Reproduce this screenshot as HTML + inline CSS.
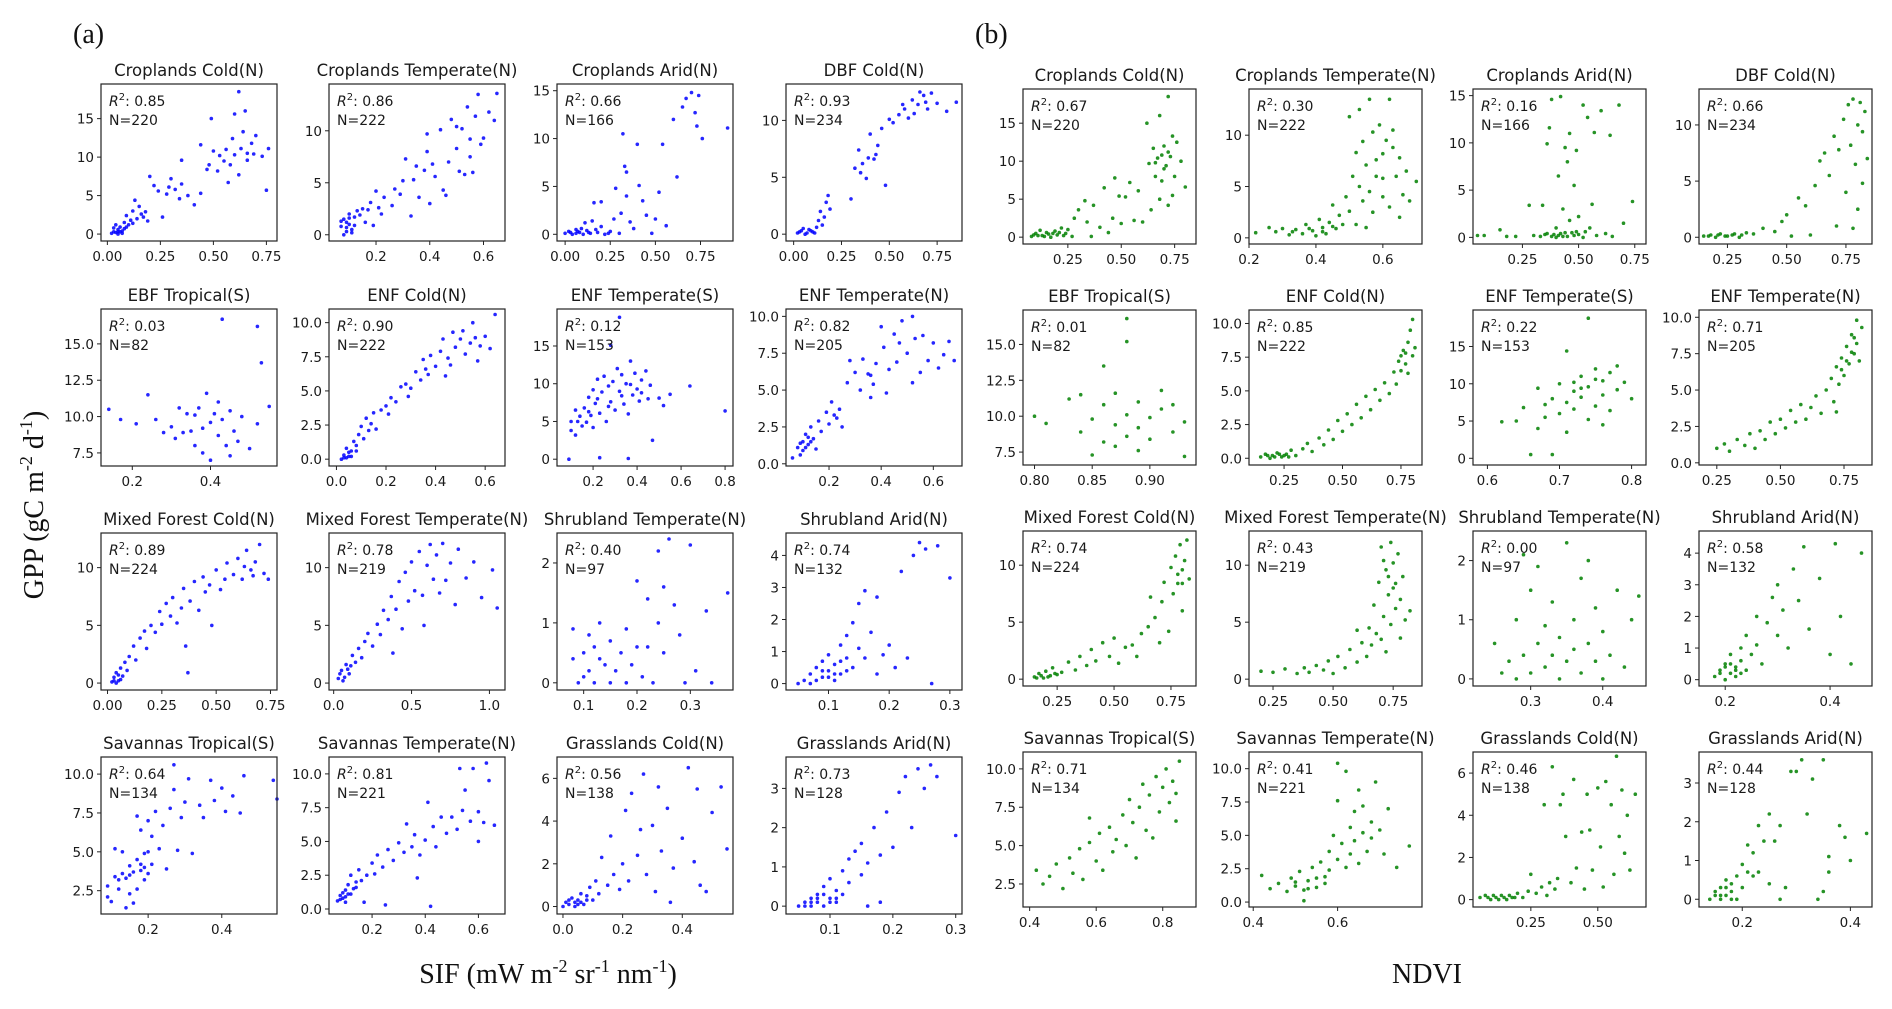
<!DOCTYPE html>
<html><head><meta charset="utf-8">
<style>
html,body{margin:0;padding:0;background:#fff;}
svg{display:block;}
text{font-family:"DejaVu Sans","Liberation Sans",sans-serif;fill:#1a1a1a;}
.big{font-family:"Liberation Serif","DejaVu Serif",serif;fill:#111;}
</style></head>
<body>
<svg id="fig" width="1892" height="1009" viewBox="0 0 1892 1009" xmlns="http://www.w3.org/2000/svg">
<text class="big" x="73" y="43" font-size="28">(a)</text>
<text class="big" x="975" y="43" font-size="28">(b)</text>
<text class="big" x="0" y="0" font-size="28" text-anchor="middle" transform="translate(43,505) rotate(-90)">GPP (gC m<tspan font-size="18" dy="-11">-2</tspan><tspan dy="11"> d</tspan><tspan font-size="18" dy="-11">-1</tspan><tspan dy="11">)</tspan></text>
<text class="big" x="548" y="983" font-size="28" text-anchor="middle">SIF (mW m<tspan font-size="18" dy="-11">-2</tspan><tspan dy="11"> sr</tspan><tspan font-size="18" dy="-11">-1</tspan><tspan dy="11"> nm</tspan><tspan font-size="18" dy="-11">-1</tspan><tspan dy="11">)</tspan></text>
<text class="big" x="1427" y="983" font-size="28" text-anchor="middle">NDVI</text>
</svg>
<script>
const titles = ["Croplands Cold(N)","Croplands Temperate(N)","Croplands Arid(N)","DBF Cold(N)","EBF Tropical(S)","ENF Cold(N)","ENF Temperate(S)","ENF Temperate(N)","Mixed Forest Cold(N)","Mixed Forest Temperate(N)","Shrubland Temperate(N)","Shrubland Arid(N)","Savannas Tropical(S)","Savannas Temperate(N)","Grasslands Cold(N)","Grasslands Arid(N)"];
const nValues = [220,222,166,234,82,222,153,205,224,219,97,132,134,221,138,128];
const r2SIF = ["0.85","0.86","0.66","0.93","0.03","0.90","0.12","0.82","0.89","0.78","0.40","0.74","0.64","0.81","0.56","0.73"];
const r2NDVI = ["0.67","0.30","0.16","0.66","0.01","0.85","0.22","0.71","0.74","0.43","0.00","0.58","0.71","0.41","0.46","0.44"];
const yTicks = [[0,5,10,15],[0,5,10],[0,5,10,15],[0,5,10],[7.5,10,12.5,15],[0,2.5,5,7.5,10],[0,5,10,15],[0,2.5,5,7.5,10],[0,5,10],[0,5,10],[0,1,2],[0,1,2,3,4],[2.5,5,7.5,10],[0,2.5,5,7.5,10],[0,2,4,6],[0,1,2,3]];
const yLims = [[-0.9,19.5],[-0.6,14.5],[-0.7,15.7],[-0.6,13.2],[6.6,17.4],[-0.5,11],[-0.9,19.9],[-0.15,10.5],[-0.6,13],[-0.6,13],[-0.12,2.5],[-0.2,4.7],[1.0,11.1],[-0.37,11.25],[-0.35,7],[-0.2,3.8]];
const xTicksSIF = [[0,0.25,0.5,0.75],[0.2,0.4,0.6],[0,0.25,0.5,0.75],[0,0.25,0.5,0.75],[0.2,0.4],[0,0.2,0.4,0.6],[0.2,0.4,0.6,0.8],[0.2,0.4,0.6],[0,0.25,0.5,0.75],[0,0.5,1.0],[0.1,0.2,0.3],[0.1,0.2,0.3],[0.2,0.4],[0.2,0.4,0.6],[0,0.2,0.4],[0.1,0.2,0.3]];
const xLimsSIF = [[-0.03,0.8],[0.025,0.68],[-0.045,0.93],[-0.04,0.88],[0.12,0.57],[-0.03,0.68],[0.036,0.836],[0.035,0.71],[-0.03,0.78],[-0.03,1.1],[0.05,0.38],[0.03,0.32],[0.072,0.55],[0.038,0.70],[-0.02,0.57],[0.03,0.31]];
const xTicksNDVI = [[0.25,0.5,0.75],[0.2,0.4,0.6],[0.25,0.5,0.75],[0.25,0.5,0.75],[0.8,0.85,0.9],[0.25,0.5,0.75],[0.6,0.7,0.8],[0.25,0.5,0.75],[0.25,0.5,0.75],[0.25,0.5,0.75],[0.3,0.4],[0.2,0.4],[0.4,0.6,0.8],[0.4,0.6],[0.25,0.5],[0.2,0.4]];
const xLimsNDVI = [[0.04,0.85],[0.2,0.717],[0.03,0.8],[0.13,0.86],[0.79,0.94],[0.1,0.84],[0.58,0.82],[0.18,0.86],[0.1,0.86],[0.15,0.87],[0.22,0.46],[0.15,0.48],[0.38,0.9],[0.39,0.8],[0.034,0.68],[0.12,0.44]];

const sifA1=[[0.02,0.1],[0.03,0.3],[0.04,0.2],[0.05,0.6],[0.06,0.9],[0.04,1.2],[0.07,0.4],[0.08,1.5],[0.05,0.0],[0.03,0.8],[0.09,2.4],[0.11,1.8],[0.12,3.0],[0.14,2.0],[0.15,3.6],[0.17,2.2],[0.19,1.7],[0.13,4.4],[0.2,7.5],[0.22,6.3],[0.26,2.2],[0.28,5.2],[0.3,7.2],[0.32,5.8],[0.35,6.5],[0.38,5.0],[0.41,3.8],[0.44,5.3],[0.44,11.6],[0.48,9.0],[0.5,10.8],[0.52,8.2],[0.55,9.5],[0.57,6.7],[0.59,12.4],[0.6,10.3],[0.62,7.7],[0.62,18.5],[0.65,16.0],[0.64,13.3],[0.66,10.5],[0.68,11.8],[0.7,12.8],[0.73,10.1],[0.76,11.1],[0.75,5.7],[0.49,15.0],[0.6,15.6],[0.35,9.6],[0.47,8.4],[0.06,0.3],[0.08,0.7],[0.1,1.2],[0.16,2.6],[0.07,0.1],[0.05,0.3],[0.09,0.9],[0.12,1.4],[0.18,2.9],[0.24,5.6],[0.29,6.1],[0.34,4.6],[0.53,10.2],[0.58,9.0],[0.63,11.1],[0.66,9.6],[0.69,10.4],[0.56,11.0]];
const sifA2=[[0.07,0.8],[0.08,1.5],[0.09,0.3],[0.1,1.0],[0.1,2.0],[0.11,0.5],[0.12,1.7],[0.08,0.0],[0.13,2.3],[0.15,2.5],[0.16,1.2],[0.18,3.1],[0.19,0.9],[0.2,4.2],[0.21,2.6],[0.23,3.6],[0.26,2.8],[0.27,4.4],[0.3,5.2],[0.31,7.3],[0.33,1.8],[0.34,5.3],[0.36,3.6],[0.38,6.2],[0.39,8.0],[0.39,9.7],[0.4,3.0],[0.42,5.6],[0.44,10.1],[0.45,4.3],[0.47,7.0],[0.48,11.1],[0.5,8.3],[0.51,6.1],[0.52,10.2],[0.54,12.3],[0.55,9.2],[0.56,6.0],[0.57,11.4],[0.58,13.5],[0.6,9.3],[0.62,11.8],[0.65,13.6],[0.64,11.0],[0.53,5.8],[0.46,3.8],[0.09,1.2],[0.11,0.2],[0.07,1.3],[0.09,0.7],[0.1,1.6],[0.12,0.9],[0.14,1.9],[0.17,2.4],[0.22,2.0],[0.29,3.9],[0.35,6.6],[0.41,6.8],[0.5,10.4],[0.55,7.5],[0.59,8.7]];
const sifA3=[[0.0,0.1],[0.02,0.3],[0.04,0.0],[0.06,0.5],[0.08,0.2],[0.1,0.0],[0.12,0.4],[0.14,0.1],[0.11,1.2],[0.15,1.4],[0.16,3.3],[0.2,3.4],[0.2,0.8],[0.22,0.0],[0.25,0.3],[0.27,1.6],[0.28,4.8],[0.3,0.1],[0.31,2.2],[0.32,10.5],[0.33,7.1],[0.34,6.5],[0.34,4.0],[0.36,1.3],[0.38,0.6],[0.4,9.4],[0.41,5.1],[0.43,3.5],[0.45,2.0],[0.48,0.1],[0.52,4.4],[0.54,9.4],[0.56,0.9],[0.6,12.0],[0.62,6.0],[0.65,13.3],[0.67,14.2],[0.7,14.8],[0.72,12.7],[0.74,14.5],[0.73,11.3],[0.76,10.0],[0.9,11.1],[0.5,1.6],[0.06,0.1],[0.09,0.6],[0.03,0.2],[0.07,0.3],[0.13,0.2],[0.17,0.5],[0.24,0.1],[0.18,0.2]];
const sifA4=[[0.02,0.1],[0.04,0.3],[0.06,0.0],[0.08,0.4],[0.1,0.2],[0.12,0.6],[0.05,0.5],[0.13,1.2],[0.14,2.0],[0.16,1.5],[0.17,2.8],[0.18,3.4],[0.19,2.2],[0.15,0.8],[0.32,5.8],[0.34,7.4],[0.36,6.2],[0.38,4.9],[0.4,8.8],[0.42,6.6],[0.44,7.8],[0.46,9.3],[0.48,4.3],[0.5,10.1],[0.52,9.8],[0.55,10.5],[0.58,11.0],[0.6,10.2],[0.62,11.8],[0.65,11.4],[0.68,12.2],[0.7,11.0],[0.72,12.4],[0.75,11.5],[0.8,10.8],[0.85,11.6],[0.3,3.1],[0.43,7.0],[0.57,11.4],[0.66,12.5],[0.03,0.2],[0.07,0.1],[0.09,0.3],[0.11,0.1],[0.35,5.4],[0.39,6.7],[0.63,10.6],[0.69,11.6]];
const sifA5=[[0.14,10.5],[0.17,9.8],[0.21,9.5],[0.24,11.5],[0.26,9.8],[0.28,8.9],[0.3,9.3],[0.31,8.5],[0.33,8.9],[0.34,10.2],[0.35,9.0],[0.36,8.0],[0.37,10.6],[0.38,9.2],[0.38,7.5],[0.39,11.6],[0.4,9.6],[0.4,7.0],[0.41,10.2],[0.42,8.7],[0.42,11.0],[0.43,9.8],[0.44,8.0],[0.43,16.7],[0.45,10.4],[0.46,9.0],[0.47,8.3],[0.48,10.0],[0.5,7.8],[0.52,9.5],[0.52,16.2],[0.53,13.7],[0.55,10.7],[0.36,10.1],[0.32,10.6],[0.45,7.3]];
const sifA6=[[0.02,0.0],[0.03,0.3],[0.04,0.1],[0.05,0.5],[0.06,0.2],[0.04,0.8],[0.07,1.3],[0.08,0.6],[0.09,1.8],[0.1,2.4],[0.11,1.5],[0.12,3.0],[0.14,2.6],[0.15,3.4],[0.16,2.2],[0.18,3.6],[0.2,3.9],[0.22,4.5],[0.24,4.2],[0.26,5.3],[0.28,5.5],[0.3,5.2],[0.32,6.4],[0.34,5.8],[0.35,7.3],[0.37,6.2],[0.38,7.6],[0.4,6.8],[0.42,7.9],[0.43,8.8],[0.45,7.4],[0.47,9.3],[0.48,8.2],[0.5,8.8],[0.52,7.7],[0.54,8.5],[0.55,10.0],[0.57,7.2],[0.6,9.0],[0.62,8.1],[0.64,10.6],[0.56,8.9],[0.46,6.9],[0.03,0.1],[0.05,0.2],[0.06,0.6],[0.08,1.0],[0.13,2.1],[0.21,3.3],[0.29,4.6],[0.36,6.6],[0.44,6.1],[0.51,9.4],[0.58,8.3]];
const sifA7=[[0.1,5.0],[0.1,3.8],[0.12,6.5],[0.12,3.2],[0.14,5.7],[0.15,4.4],[0.16,6.8],[0.17,4.9],[0.18,8.2],[0.19,5.8],[0.2,9.2],[0.2,4.2],[0.21,7.4],[0.22,10.6],[0.23,6.1],[0.24,8.9],[0.25,11.0],[0.26,5.0],[0.27,9.7],[0.28,7.6],[0.29,10.3],[0.3,6.5],[0.31,12.0],[0.32,9.0],[0.33,11.2],[0.34,7.3],[0.35,10.0],[0.36,6.0],[0.37,13.0],[0.38,8.5],[0.39,11.4],[0.4,9.3],[0.41,7.7],[0.42,10.5],[0.44,11.7],[0.45,8.0],[0.46,9.8],[0.5,8.1],[0.52,7.1],[0.55,8.6],[0.64,9.7],[0.8,6.4],[0.47,2.5],[0.09,0.0],[0.23,0.2],[0.36,0.1],[0.32,18.8],[0.28,15.1],[0.13,5.0],[0.18,6.3],[0.22,8.0],[0.27,7.0],[0.33,8.4],[0.37,9.9],[0.42,8.8]];
const sifA8=[[0.06,0.4],[0.08,1.1],[0.09,0.6],[0.1,1.5],[0.1,0.9],[0.11,2.0],[0.12,1.3],[0.13,2.5],[0.14,1.7],[0.15,1.0],[0.16,2.9],[0.17,2.2],[0.19,3.5],[0.2,2.7],[0.21,4.2],[0.22,3.3],[0.24,3.7],[0.25,2.5],[0.27,5.5],[0.28,7.0],[0.3,6.2],[0.32,5.0],[0.33,7.1],[0.35,6.1],[0.36,4.5],[0.37,5.4],[0.38,6.8],[0.4,9.3],[0.41,7.9],[0.43,6.4],[0.45,8.8],[0.46,6.9],[0.47,8.2],[0.48,9.7],[0.5,7.5],[0.52,10.0],[0.53,8.5],[0.55,6.2],[0.56,8.7],[0.58,7.0],[0.6,8.2],[0.62,6.5],[0.64,7.4],[0.66,8.3],[0.68,7.0],[0.52,5.5],[0.42,4.8],[0.09,1.4],[0.11,1.1],[0.12,1.8],[0.13,1.5],[0.23,3.1],[0.36,6.0]];
const sifA9=[[0.02,0.1],[0.03,0.5],[0.04,0.9],[0.05,0.2],[0.06,1.3],[0.04,0.0],[0.07,0.6],[0.08,1.8],[0.1,2.3],[0.12,3.2],[0.13,2.0],[0.15,3.9],[0.17,4.5],[0.18,3.0],[0.2,5.0],[0.22,4.4],[0.24,6.2],[0.25,5.1],[0.27,6.9],[0.29,5.8],[0.3,7.4],[0.32,5.2],[0.34,6.5],[0.35,8.2],[0.37,0.9],[0.38,7.1],[0.4,8.8],[0.42,6.3],[0.44,9.2],[0.45,7.9],[0.47,8.5],[0.5,9.8],[0.52,8.1],[0.54,9.0],[0.55,10.4],[0.58,9.4],[0.6,10.8],[0.62,9.0],[0.64,11.5],[0.66,9.8],[0.68,10.5],[0.7,12.0],[0.72,9.5],[0.74,9.0],[0.36,3.2],[0.48,5.0],[0.03,0.2],[0.05,0.7],[0.06,0.3],[0.09,1.1],[0.63,10.1],[0.67,9.3]];
const sifA10=[[0.03,0.4],[0.05,1.1],[0.06,0.2],[0.08,1.6],[0.1,0.8],[0.12,2.4],[0.14,1.8],[0.16,3.0],[0.18,2.2],[0.2,3.6],[0.22,4.3],[0.25,3.2],[0.28,5.1],[0.3,4.2],[0.32,6.3],[0.35,5.5],[0.37,7.5],[0.4,6.4],[0.42,8.8],[0.44,4.7],[0.46,9.6],[0.48,7.1],[0.5,10.5],[0.52,8.0],[0.55,11.4],[0.57,7.6],[0.6,10.2],[0.62,12.0],[0.64,9.0],[0.66,11.1],[0.68,7.8],[0.7,12.1],[0.72,8.9],[0.75,10.4],[0.78,6.8],[0.8,11.6],[0.85,9.1],[0.9,10.5],[0.95,7.4],[1.02,9.8],[1.05,6.5],[0.58,5.0],[0.38,2.6],[0.04,0.8],[0.07,0.5],[0.09,1.2],[0.11,1.5]];
const sifA11=[[0.08,0.4],[0.08,0.9],[0.09,0.0],[0.1,0.5],[0.1,0.1],[0.11,0.8],[0.11,0.2],[0.12,0.6],[0.12,0.0],[0.13,0.4],[0.13,1.0],[0.14,0.3],[0.15,0.0],[0.15,0.7],[0.16,0.2],[0.17,0.5],[0.18,0.9],[0.18,0.0],[0.19,0.3],[0.2,0.6],[0.2,1.7],[0.21,0.1],[0.22,0.6],[0.22,1.4],[0.23,0.0],[0.24,1.0],[0.24,2.2],[0.25,1.6],[0.25,0.5],[0.26,2.4],[0.27,1.3],[0.28,0.8],[0.29,0.0],[0.3,2.3],[0.31,0.2],[0.33,1.2],[0.37,1.5],[0.34,0.0]];
const sifA12=[[0.05,0.0],[0.06,0.1],[0.07,0.3],[0.07,0.0],[0.08,0.5],[0.08,0.1],[0.09,0.7],[0.09,0.2],[0.1,0.4],[0.1,0.9],[0.11,0.6],[0.11,0.1],[0.12,1.2],[0.12,0.3],[0.13,1.5],[0.13,0.8],[0.14,1.9],[0.14,0.5],[0.15,2.5],[0.15,1.1],[0.16,2.9],[0.16,0.8],[0.17,1.6],[0.18,2.7],[0.18,0.3],[0.19,0.9],[0.2,1.2],[0.21,0.5],[0.22,3.5],[0.24,4.0],[0.25,4.4],[0.26,4.2],[0.28,4.3],[0.3,3.3],[0.27,0.0],[0.23,0.8],[0.09,0.4],[0.1,0.2],[0.11,0.3],[0.12,0.7],[0.13,0.4]];
const sifA13=[[0.09,2.8],[0.09,2.1],[0.1,1.8],[0.11,3.4],[0.11,5.2],[0.12,2.6],[0.13,3.6],[0.14,1.4],[0.14,3.3],[0.15,4.1],[0.15,2.3],[0.16,3.7],[0.16,1.7],[0.17,4.5],[0.17,2.6],[0.18,6.4],[0.18,3.8],[0.19,4.9],[0.19,3.2],[0.2,5.0],[0.2,7.0],[0.21,4.2],[0.21,6.0],[0.22,7.6],[0.23,5.2],[0.24,6.7],[0.25,3.9],[0.26,7.8],[0.27,9.0],[0.27,10.6],[0.28,5.1],[0.29,7.2],[0.3,8.2],[0.31,9.7],[0.32,4.9],[0.34,8.0],[0.35,7.2],[0.37,9.6],[0.38,8.3],[0.4,9.1],[0.41,7.6],[0.43,8.6],[0.46,9.9],[0.45,7.5],[0.54,9.6],[0.55,8.4],[0.17,7.3],[0.13,5.0],[0.12,3.2],[0.15,3.5],[0.18,4.2],[0.19,4.0],[0.2,3.6]];
const sifA14=[[0.07,0.6],[0.08,1.0],[0.09,0.8],[0.1,1.4],[0.1,0.5],[0.11,1.8],[0.12,1.1],[0.12,2.5],[0.14,1.6],[0.15,2.9],[0.16,2.1],[0.17,0.5],[0.18,2.5],[0.2,3.4],[0.21,2.6],[0.22,4.0],[0.24,3.1],[0.25,0.3],[0.26,4.4],[0.28,3.6],[0.3,4.9],[0.32,4.2],[0.33,6.3],[0.35,4.6],[0.36,5.5],[0.38,4.0],[0.4,5.1],[0.41,7.9],[0.42,0.2],[0.43,6.1],[0.44,4.6],[0.46,6.8],[0.48,5.6],[0.5,6.8],[0.52,5.9],[0.54,7.3],[0.55,8.8],[0.57,6.5],[0.58,10.4],[0.6,7.2],[0.6,5.0],[0.62,6.4],[0.64,9.5],[0.66,6.2],[0.63,10.8],[0.53,10.4],[0.37,2.3],[0.08,0.7],[0.09,1.2],[0.1,0.9],[0.11,1.1],[0.13,1.5],[0.14,2.0]];
const sifA15=[[0.0,0.0],[0.01,0.2],[0.02,0.1],[0.03,0.4],[0.04,0.0],[0.05,0.3],[0.06,0.6],[0.07,0.1],[0.08,0.5],[0.09,0.9],[0.1,0.3],[0.11,1.2],[0.12,0.6],[0.13,2.3],[0.15,1.0],[0.16,3.3],[0.17,1.5],[0.19,0.8],[0.2,2.0],[0.21,4.5],[0.22,1.2],[0.23,5.3],[0.25,2.4],[0.26,3.6],[0.27,6.2],[0.28,1.5],[0.3,3.8],[0.31,0.7],[0.32,5.6],[0.33,2.6],[0.35,4.6],[0.37,1.8],[0.4,3.2],[0.42,6.5],[0.44,2.1],[0.45,5.5],[0.48,0.7],[0.5,4.4],[0.53,5.6],[0.55,2.7],[0.36,0.2],[0.46,1.0],[0.02,0.3],[0.04,0.2],[0.05,0.1],[0.06,0.2],[0.08,0.3]];
const sifA16=[[0.05,0.0],[0.06,0.1],[0.06,0.0],[0.07,0.2],[0.07,0.0],[0.08,0.3],[0.08,0.1],[0.09,0.0],[0.09,0.5],[0.1,0.2],[0.1,0.7],[0.11,0.4],[0.11,0.1],[0.12,0.9],[0.12,0.3],[0.13,1.2],[0.13,0.6],[0.14,1.4],[0.15,0.8],[0.15,1.6],[0.16,1.1],[0.17,2.0],[0.18,1.3],[0.18,0.1],[0.19,2.4],[0.2,1.5],[0.21,2.9],[0.22,3.3],[0.23,2.0],[0.24,3.5],[0.25,3.0],[0.26,3.6],[0.27,3.3],[0.3,1.8],[0.16,0.0],[0.07,0.1],[0.08,0.2],[0.09,0.3],[0.1,0.1],[0.11,0.2]];

const ndviB1=[[0.08,0.1],[0.1,0.5],[0.12,0.9],[0.13,0.2],[0.15,0.6],[0.17,0.0],[0.19,0.8],[0.2,0.3],[0.22,1.2],[0.24,0.5],[0.25,1.0],[0.27,0.1],[0.28,2.5],[0.3,3.6],[0.33,4.8],[0.34,2.0],[0.36,0.1],[0.37,4.2],[0.4,1.3],[0.42,6.5],[0.44,0.6],[0.46,2.5],[0.47,7.8],[0.49,5.4],[0.5,1.8],[0.52,5.3],[0.54,7.2],[0.56,2.2],[0.58,6.1],[0.6,2.0],[0.62,15.0],[0.63,9.7],[0.64,3.6],[0.65,11.7],[0.66,8.0],[0.67,10.4],[0.68,16.0],[0.68,5.0],[0.7,12.0],[0.7,9.0],[0.72,18.5],[0.72,4.2],[0.73,10.6],[0.74,13.3],[0.75,8.0],[0.76,12.5],[0.78,10.0],[0.8,6.6],[0.74,5.5],[0.11,0.2],[0.16,0.4],[0.21,0.6],[0.09,0.3],[0.14,0.1],[0.18,0.5],[0.23,0.2],[0.66,9.8],[0.69,10.8],[0.71,9.4],[0.72,11.2],[0.69,7.4]];
const ndviB2=[[0.22,0.5],[0.26,1.0],[0.28,0.6],[0.3,0.9],[0.32,0.3],[0.34,0.8],[0.36,0.4],[0.37,1.3],[0.39,0.7],[0.4,0.2],[0.41,1.8],[0.42,1.0],[0.43,0.4],[0.44,1.5],[0.45,3.2],[0.46,0.9],[0.47,2.2],[0.48,1.3],[0.49,4.0],[0.5,2.6],[0.5,11.8],[0.51,6.0],[0.52,8.3],[0.52,1.3],[0.53,12.5],[0.54,3.6],[0.54,9.4],[0.55,7.1],[0.56,4.5],[0.56,13.5],[0.57,2.5],[0.57,10.3],[0.58,6.0],[0.59,11.0],[0.6,4.0],[0.6,8.2],[0.61,9.5],[0.62,3.0],[0.62,13.5],[0.63,10.5],[0.64,6.0],[0.65,2.0],[0.65,7.8],[0.66,4.2],[0.67,6.5],[0.68,3.6],[0.7,5.5],[0.55,1.0],[0.33,0.6],[0.38,0.9],[0.42,0.6],[0.45,1.1],[0.53,5.0],[0.58,7.6],[0.6,5.8],[0.63,8.8]];
const ndviB3=[[0.05,0.2],[0.08,0.2],[0.15,0.8],[0.18,0.1],[0.22,0.1],[0.28,3.4],[0.3,0.2],[0.34,3.4],[0.35,0.3],[0.36,9.9],[0.37,11.6],[0.38,14.6],[0.38,0.1],[0.4,1.0],[0.41,6.5],[0.42,0.4],[0.42,14.9],[0.43,3.0],[0.44,9.5],[0.45,0.1],[0.45,8.0],[0.46,1.8],[0.46,11.0],[0.47,0.5],[0.48,0.2],[0.48,5.5],[0.49,9.2],[0.5,0.3],[0.5,2.2],[0.52,14.0],[0.53,0.6],[0.54,12.7],[0.55,1.0],[0.56,3.5],[0.57,11.1],[0.58,0.2],[0.6,13.4],[0.62,0.4],[0.64,10.8],[0.65,0.1],[0.68,14.0],[0.7,1.5],[0.74,3.8],[0.44,0.5],[0.4,0.0],[0.52,0.0],[0.33,0.1],[0.36,0.4],[0.39,0.3],[0.41,0.2],[0.43,0.1],[0.49,0.6]];
const ndviB4=[[0.15,0.1],[0.18,0.2],[0.2,0.0],[0.22,0.3],[0.25,0.1],[0.27,0.2],[0.3,0.0],[0.33,0.4],[0.36,0.3],[0.4,0.8],[0.45,0.5],[0.48,1.4],[0.5,2.0],[0.52,0.1],[0.55,3.5],[0.58,2.8],[0.6,0.2],[0.62,4.6],[0.64,6.8],[0.66,7.5],[0.68,5.5],[0.7,9.0],[0.71,1.0],[0.72,7.8],[0.74,10.5],[0.75,4.0],[0.76,11.8],[0.77,8.2],[0.78,12.3],[0.79,6.5],[0.8,10.0],[0.8,2.5],[0.81,12.0],[0.82,9.4],[0.83,11.2],[0.82,4.8],[0.78,0.8],[0.84,7.0],[0.17,0.1],[0.21,0.2],[0.24,0.1],[0.28,0.3],[0.31,0.2]];
const ndviB5=[[0.8,10.0],[0.81,9.5],[0.83,11.2],[0.84,8.9],[0.85,9.8],[0.85,7.3],[0.86,10.8],[0.86,8.2],[0.87,9.4],[0.87,11.6],[0.87,7.9],[0.88,10.1],[0.88,8.6],[0.88,16.8],[0.88,15.2],[0.89,9.2],[0.89,11.0],[0.89,7.6],[0.9,9.9],[0.9,8.4],[0.91,10.5],[0.91,11.8],[0.92,8.9],[0.92,10.8],[0.93,9.6],[0.93,7.2],[0.86,13.5],[0.84,11.5]];
const ndviB6=[[0.15,0.1],[0.17,0.3],[0.19,0.0],[0.2,0.2],[0.22,0.4],[0.24,0.1],[0.26,0.3],[0.28,0.6],[0.3,0.2],[0.33,0.7],[0.35,1.1],[0.37,0.5],[0.4,1.5],[0.42,1.0],[0.44,2.1],[0.46,1.4],[0.48,2.8],[0.5,2.0],[0.52,3.3],[0.54,2.5],[0.56,4.0],[0.58,3.0],[0.6,4.6],[0.62,3.6],[0.64,5.1],[0.66,4.3],[0.68,5.6],[0.7,4.8],[0.72,6.4],[0.73,5.5],[0.74,7.2],[0.75,6.5],[0.76,8.0],[0.77,7.0],[0.78,8.6],[0.78,6.3],[0.79,9.5],[0.8,7.6],[0.8,10.3],[0.81,8.2],[0.18,0.2],[0.21,0.1],[0.23,0.3],[0.25,0.2],[0.27,0.1],[0.75,7.6],[0.77,7.8]];
const ndviB7=[[0.62,4.9],[0.64,5.0],[0.65,6.8],[0.66,0.5],[0.67,4.0],[0.68,7.2],[0.68,5.5],[0.69,8.0],[0.7,6.0],[0.7,10.0],[0.71,7.5],[0.71,3.5],[0.72,9.0],[0.72,6.6],[0.73,11.0],[0.73,8.2],[0.74,5.2],[0.74,9.6],[0.75,12.0],[0.75,7.0],[0.76,10.4],[0.76,8.5],[0.77,11.5],[0.77,6.4],[0.78,9.2],[0.78,12.4],[0.79,10.2],[0.8,8.0],[0.74,18.8],[0.71,14.4],[0.69,0.5],[0.76,4.5],[0.67,9.4],[0.72,10.2],[0.73,9.4],[0.75,10.6]];
const ndviB8=[[0.25,1.0],[0.28,1.3],[0.3,0.8],[0.33,1.6],[0.36,1.2],[0.38,2.0],[0.4,1.0],[0.42,2.2],[0.44,1.6],[0.46,2.8],[0.48,2.0],[0.5,3.0],[0.52,2.4],[0.54,3.6],[0.56,2.8],[0.58,4.0],[0.6,3.0],[0.62,3.8],[0.64,4.6],[0.66,3.4],[0.68,5.0],[0.7,5.8],[0.71,4.2],[0.72,6.6],[0.73,5.4],[0.74,7.2],[0.75,6.0],[0.76,8.0],[0.77,6.8],[0.78,8.8],[0.79,7.5],[0.8,9.8],[0.8,8.2],[0.81,7.0],[0.82,9.3],[0.72,3.5],[0.74,6.4],[0.76,7.0],[0.78,7.6],[0.79,8.6]];
const ndviB9=[[0.15,0.2],[0.17,0.5],[0.19,0.1],[0.2,0.7],[0.22,0.3],[0.23,1.0],[0.25,0.4],[0.27,0.6],[0.3,1.5],[0.33,0.8],[0.35,2.0],[0.38,1.2],[0.4,2.6],[0.42,1.6],[0.45,3.2],[0.48,2.0],[0.5,3.6],[0.52,1.4],[0.55,2.8],[0.58,3.0],[0.6,2.0],[0.62,4.0],[0.65,4.6],[0.66,7.2],[0.68,5.4],[0.7,3.2],[0.71,6.8],[0.72,8.5],[0.74,4.2],[0.75,9.8],[0.76,7.5],[0.77,10.8],[0.78,8.4],[0.79,11.8],[0.8,9.6],[0.8,6.0],[0.81,10.4],[0.82,12.2],[0.83,8.8],[0.16,0.1],[0.18,0.3],[0.21,0.2],[0.24,0.5],[0.78,9.2],[0.8,8.4]];
const ndviB10=[[0.2,0.7],[0.25,0.6],[0.3,0.9],[0.35,0.5],[0.38,1.0],[0.4,0.6],[0.43,1.2],[0.46,0.8],[0.48,1.6],[0.5,0.5],[0.52,2.0],[0.55,1.0],[0.57,2.6],[0.6,1.5],[0.62,3.2],[0.64,2.0],[0.65,4.5],[0.66,3.0],[0.67,6.5],[0.68,4.0],[0.69,8.5],[0.7,3.5],[0.7,11.6],[0.71,5.5],[0.72,9.6],[0.72,2.4],[0.73,7.4],[0.74,12.0],[0.74,4.8],[0.75,10.2],[0.76,6.2],[0.76,8.4],[0.77,11.0],[0.78,3.6],[0.78,7.0],[0.79,9.0],[0.8,5.2],[0.82,6.0],[0.6,4.3],[0.73,9.0],[0.75,8.0],[0.71,10.4]];
const ndviB11=[[0.25,0.6],[0.26,0.1],[0.27,0.3],[0.28,0.0],[0.28,1.0],[0.29,0.4],[0.3,1.5],[0.3,0.1],[0.31,0.6],[0.31,1.9],[0.32,0.2],[0.32,0.9],[0.33,0.4],[0.33,1.3],[0.34,0.0],[0.34,0.7],[0.35,2.3],[0.35,0.3],[0.36,1.0],[0.36,0.5],[0.37,0.1],[0.37,1.7],[0.38,0.6],[0.38,2.0],[0.39,0.3],[0.39,1.2],[0.4,0.8],[0.4,0.0],[0.41,0.4],[0.42,1.5],[0.43,0.2],[0.44,1.0],[0.45,1.4],[0.29,2.1]];
const ndviB12=[[0.18,0.1],[0.19,0.3],[0.2,0.0],[0.2,0.5],[0.21,0.2],[0.21,0.8],[0.22,0.4],[0.22,0.1],[0.23,1.0],[0.23,0.6],[0.24,0.3],[0.24,1.4],[0.25,0.8],[0.26,2.0],[0.26,1.1],[0.27,0.5],[0.28,1.8],[0.29,2.6],[0.3,1.4],[0.3,3.0],[0.31,2.2],[0.32,1.0],[0.33,3.5],[0.34,2.5],[0.35,4.2],[0.36,1.6],[0.38,3.2],[0.4,0.8],[0.42,2.0],[0.44,0.5],[0.46,4.0],[0.41,4.3],[0.19,0.2],[0.2,0.4],[0.21,0.5],[0.22,0.3],[0.23,0.2]];
const ndviB13=[[0.42,3.4],[0.44,2.5],[0.46,3.0],[0.48,3.8],[0.5,2.2],[0.52,4.2],[0.53,3.2],[0.55,4.8],[0.56,2.8],[0.58,5.2],[0.6,4.0],[0.61,5.8],[0.62,3.4],[0.64,6.2],[0.65,4.6],[0.66,5.4],[0.68,7.0],[0.69,5.0],[0.7,8.0],[0.71,6.5],[0.72,4.2],[0.73,7.5],[0.74,9.0],[0.75,6.0],[0.76,8.3],[0.77,5.5],[0.78,9.5],[0.79,7.2],[0.8,8.8],[0.81,10.0],[0.82,7.8],[0.83,9.2],[0.84,8.4],[0.85,10.5],[0.84,6.6],[0.58,6.8]];
const ndviB14=[[0.42,2.0],[0.44,1.0],[0.46,1.4],[0.48,0.8],[0.49,1.8],[0.5,1.2],[0.51,2.3],[0.52,0.9],[0.53,1.6],[0.54,2.6],[0.55,1.1],[0.56,3.0],[0.57,1.9],[0.58,3.8],[0.58,2.4],[0.59,5.0],[0.6,3.2],[0.6,7.6],[0.61,4.4],[0.62,2.6],[0.62,9.8],[0.63,5.6],[0.63,3.6],[0.64,6.8],[0.64,4.6],[0.65,8.4],[0.65,2.9],[0.66,5.2],[0.66,7.2],[0.67,3.8],[0.68,6.0],[0.68,4.8],[0.69,9.0],[0.7,5.4],[0.71,3.6],[0.72,7.0],[0.74,2.6],[0.77,4.2],[0.6,10.4],[0.52,0.1],[0.5,1.5],[0.53,1.0],[0.55,1.8],[0.57,1.4]];
const ndviB15=[[0.06,0.1],[0.08,0.2],[0.1,0.0],[0.12,0.1],[0.14,0.2],[0.16,0.0],[0.18,0.1],[0.2,0.3],[0.22,0.1],[0.24,0.4],[0.25,1.2],[0.27,0.3],[0.29,0.6],[0.3,4.5],[0.31,0.2],[0.32,0.8],[0.33,6.3],[0.34,0.5],[0.35,1.0],[0.36,4.5],[0.37,5.0],[0.38,3.0],[0.4,0.8],[0.41,5.7],[0.42,1.5],[0.44,3.2],[0.45,0.5],[0.46,5.0],[0.47,3.3],[0.48,1.4],[0.5,5.3],[0.51,2.5],[0.52,0.6],[0.53,5.6],[0.55,4.5],[0.56,1.2],[0.57,6.8],[0.58,3.0],[0.59,5.2],[0.6,2.2],[0.61,4.0],[0.62,1.4],[0.64,5.0],[0.09,0.1],[0.11,0.2],[0.13,0.0],[0.15,0.1],[0.17,0.2],[0.19,0.1]];
const ndviB16=[[0.14,0.0],[0.15,0.1],[0.16,0.3],[0.16,0.0],[0.17,0.5],[0.17,0.1],[0.18,0.2],[0.18,0.4],[0.19,0.0],[0.19,0.6],[0.2,0.3],[0.2,0.9],[0.21,0.7],[0.21,1.4],[0.22,0.6],[0.22,1.2],[0.23,1.9],[0.23,0.7],[0.24,1.5],[0.25,2.2],[0.25,0.4],[0.26,1.5],[0.27,1.9],[0.28,0.3],[0.27,0.0],[0.29,3.3],[0.3,3.3],[0.31,3.6],[0.32,2.2],[0.33,3.1],[0.34,0.0],[0.35,0.2],[0.36,1.1],[0.36,0.7],[0.38,1.9],[0.39,1.6],[0.4,1.0],[0.43,1.7],[0.35,3.6],[0.15,0.2],[0.16,0.1],[0.17,0.3],[0.18,0.0]];

const sifPoints=[sifA1,sifA2,sifA3,sifA4,sifA5,sifA6,sifA7,sifA8,sifA9,sifA10,sifA11,sifA12,sifA13,sifA14,sifA15,sifA16];
const ndviPoints=[ndviB1,ndviB2,ndviB3,ndviB4,ndviB5,ndviB6,ndviB7,ndviB8,ndviB9,ndviB10,ndviB11,ndviB12,ndviB13,ndviB14,ndviB15,ndviB16];

const NS='http://www.w3.org/2000/svg';
const svg=document.getElementById('fig');
function mk(tag,attrs,parent){const e=document.createElementNS(NS,tag);for(const k in attrs)e.setAttribute(k,attrs[k]);(parent||svg).appendChild(e);return e;}
function fmtTicks(ticks){
  let dec=0;
  ticks.forEach(t=>{const s=String(t);const i=s.indexOf('.');if(i>=0)dec=Math.max(dec,s.length-i-1);});
  return ticks.map(t=>t.toFixed(dec));
}
function drawPanel(side,i,left,top,w,h,pts,xl,yl,xt,yt,r2,color){
  const g=mk('g',{});
  
  
  const sx=v=>left+(v-xl[0])/(xl[1]-xl[0])*w;
  const sy=v=>top+h-(v-yl[0])/(yl[1]-yl[0])*h;
  const title=mk('text',{x:left+w/2,y:top-8,'font-size':16.5,'text-anchor':'middle'},g);
  title.textContent=titles[i];
  
  
  const dots=mk('g',{fill:color,'fill-opacity':0.85},g);
  
  
  pts.forEach(p=>{
    const c=mk('circle',{cx:sx(p[0]).toFixed(1),cy:sy(p[1]).toFixed(1),r:1.8},dots);
    
    
  });
  const xlab=fmtTicks(xt);
  xt.forEach((t,k)=>{
    const x=sx(t);
    mk('line',{x1:x,x2:x,y1:top+h,y2:top+h+4,stroke:'#222','stroke-width':1},g);
    const tx=mk('text',{x:x,y:top+h+20,'font-size':13.5,'text-anchor':'middle'},g);
    tx.textContent=xlab[k];
    
    
  });
  const ylab=fmtTicks(yt);
  yt.forEach((t,k)=>{
    const y=sy(t);
    mk('line',{x1:left-4,x2:left,y1:y,y2:y,stroke:'#222','stroke-width':1},g);
    const ty=mk('text',{x:left-7,y:y+5,'font-size':13.5,'text-anchor':'end'},g);
    ty.textContent=ylab[k];
    
    
  });
  const box=mk('rect',{x:left,y:top,width:w,height:h,fill:'none',stroke:'#222','stroke-width':1.2},g);
  
  
  const a1=mk('text',{x:left+8,y:top+22,'font-size':14},g);
  a1.innerHTML='<tspan font-style="italic">R</tspan><tspan font-size="10" dy="-6">2</tspan><tspan dy="6">: '+r2+'</tspan>';
  
  
  const a2=mk('text',{x:left+8,y:top+41,'font-size':14},g);
  a2.textContent='N='+nValues[i];
  
  
}
const aLefts=[101,329,557,786], aTops=[84,309,533,757];
const bLefts=[1023,1249,1473,1699], bTops=[89,310,531,752];
for(let i=0;i<16;i++){
  const r=Math.floor(i/4), c=i%4;
  drawPanel('sif',i,aLefts[c],aTops[r],176,157,sifPoints[i],xLimsSIF[i],yLims[i],xTicksSIF[i],yTicks[i],r2SIF[i],'#0000ff');
  drawPanel('ndvi',i,bLefts[c],bTops[r],173,155,ndviPoints[i],xLimsNDVI[i],yLims[i],xTicksNDVI[i],yTicks[i],r2NDVI[i],'#008000');
}
</script>
</body></html>
